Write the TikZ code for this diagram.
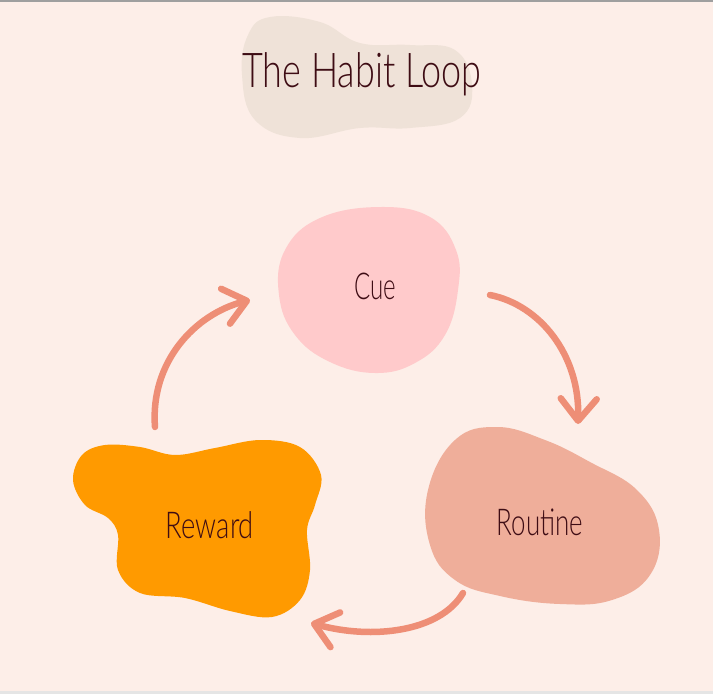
\documentclass[tikz,border=0pt]{standalone}
\usepackage{fontspec}
\usetikzlibrary{arrows.meta}
\IfFontExistsTF{Lato Light}{\newfontfamily\hand{Lato Light}}{\newfontfamily\hand{Lato}}
\definecolor{bg}{HTML}{FDEEE8}
\definecolor{titleblob}{HTML}{EFE2D8}
\definecolor{cueblob}{HTML}{FFCACB}
\definecolor{routineblob}{HTML}{EFAE9A}
\definecolor{rewardblob}{HTML}{FF9A00}
\definecolor{arrowc}{HTML}{EE8E76}
\definecolor{ink}{HTML}{3E0C14}
\tikzset{
  blob/.style={draw=none},
  lbl/.style={text=ink, anchor=base, inner sep=0pt, font=\hand\fontsize{37}{40}\selectfont},
  ttl/.style={text=ink, anchor=base, inner sep=0pt, font=\hand\fontsize{48}{52}\selectfont},
  loop/.style={draw=arrowc, line width=6.5pt, line cap=round,
    -{Straight Barb[length=22pt,width=36pt,round]}}
}
\begin{document}
\begin{tikzpicture}[x=1pt,y=-1pt]
\useasboundingbox (0,0) rectangle (713,694);
\fill[bg] (0,0) rectangle (713,694);
\fill[gray!75] (0,0) rectangle (713,1.5);
\fill[gray!20] (0,691) rectangle (713,694);
% blobs
\fill[titleblob] plot[smooth cycle, tension=0.7] coordinates {
  (270,17) (320,22) (360,43) (410,45) (455,50) (472,85) (460,118)
  (410,128) (360,128) (300,138) (255,120) (242,75) (248,35)};
\fill[cueblob] plot[smooth cycle, tension=0.7] coordinates {
  (380,207) (430,217) (456,250) (458,290) (445,335) (415,363) (375,373)
  (330,362) (295,335) (279,295) (285,250) (320,218)};
\fill[routineblob] plot[smooth cycle, tension=0.7] coordinates {
  (497,427) (545,440) (590,462) (637,490) (659,530) (650,575) (612,600)
  (560,604) (500,596) (455,580) (430,545) (428,490) (455,440)};
\fill[rewardblob] plot[smooth cycle, tension=0.6] coordinates {
  (105,445) (140,447) (175,455) (215,448) (260,440) (300,447) (321,475)
  (315,505) (307,530) (310,570) (300,600) (272,617) (230,611) (185,598)
  (140,593) (118,570) (118,535) (108,518) (85,505) (73,480) (82,455)};
% labels
\node[ttl] (title) at (362,87) {\scalebox{0.75}[1]{The Habit Loop}};
\node[lbl] (cue) at (375,299) {\scalebox{0.65}[1]{Cue}};
\node[lbl] (routine) at (540,535) {\scalebox{0.7}[1]{Routine}};
\node[lbl] (reward) at (210,538) {\scalebox{0.74}[1]{Reward}};
% arrow ends
\coordinate (a1s) at (490,295);
\coordinate (a1e) at (578,424);
\coordinate (a2s) at (463,593);
\coordinate (a2e) at (311,623);
\coordinate (a3s) at (155,427);
\coordinate (a3e) at (250,300);
\draw[loop] (a1s) .. controls (540,305) and (580,355) .. (a1e);
\draw[loop] (a2s) .. controls (440,632) and (372,640) .. (a2e);
\draw[loop] (a3s) .. controls (150,362) and (195,314) .. (a3e);
\end{tikzpicture}
\end{document}
